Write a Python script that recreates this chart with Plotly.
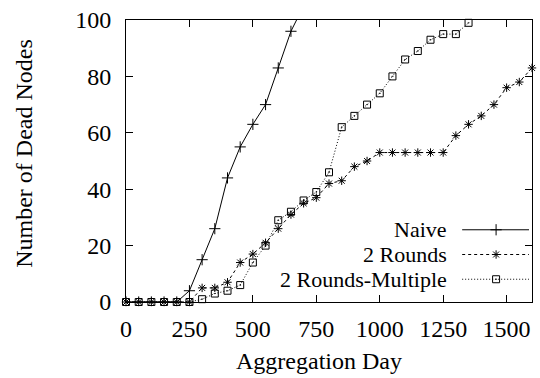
import plotly.graph_objects as go

days = list(range(0, 1650, 50))
naive = [0, 0, 0, 0, 0, 4, 15, 26, 44, 55, 63, 70, 83, 96, 105]
two_rounds = [0, 0, 0, 0, 0, 0, 5, 5, 7, 14, 17, 21, 26, 31, 35, 37, 42, 43, 48, 50,
              53, 53, 53, 53, 53, 53, 59, 63, 66, 70, 76, 78, 83]
two_rounds_multi = [0, 0, 0, 0, 0, 0, 1, 3, 4, 6, 14, 20, 29, 32, 36, 39, 46, 62, 66, 70,
                    74, 80, 86, 89, 93, 95, 95, 99]
names = ["Naive", "2 Rounds", "2 Rounds-Multiple"]
x_ticks = [0, 250, 500, 750, 1000, 1250, 1500]
y_ticks = [0, 20, 40, 60, 80, 100]

FONT = "Liberation Serif"
FS = 24
LEG_FS = 22
L, R, T, B = 126, 7, 17, 76
W, H = 540, 378
pw, ph = W - L - R, H - T - B

styles = [
    dict(dash="solid", symbol="cross-thin-open", size=8),
    dict(dash="3px,3px", symbol="asterisk-open", size=7),
    dict(dash="1px,2px", symbol="square-open-dot", size=7),
]
series = [naive, two_rounds, two_rounds_multi]

fig = go.Figure()
for name, ys, st in zip(names, series, styles):
    fig.add_trace(go.Scatter(
        x=days[:len(ys)], y=ys, mode="lines+markers", name=name,
        line=dict(color="black", width=1, dash=st["dash"]),
        marker=dict(symbol=st["symbol"], size=st["size"], color="black",
                    line=dict(color="black", width=1)),
        cliponaxis=(name == "Naive"), showlegend=False,
    ))

# custom legend (text to the left of sample, as in gnuplot)
def px2paper(xp, yp):
    return (xp - L) / pw, (H - B - yp) / ph

rows_y = [229, 254, 279]
for name, st, yp in zip(names, styles, rows_y):
    tx, ty = px2paper(449, yp)
    fig.add_annotation(x=tx, y=ty, xref="paper", yref="paper", text=name,
                       showarrow=False, xanchor="right", yanchor="middle", borderpad=0,
                       font=dict(family=FONT, size=LEG_FS, color="black"))
    x0, y0 = px2paper(463, yp)
    x1, _ = px2paper(530, yp)
    xm, _ = px2paper(497, yp)
    fig.add_trace(go.Scatter(
        x=[x0, x1], y=[y0, y0], xaxis="x2", yaxis="y2", mode="lines",
        line=dict(color="black", width=1, dash=st["dash"]), showlegend=False,
        hoverinfo="skip"))
    fig.add_trace(go.Scatter(
        x=[xm], y=[y0], xaxis="x2", yaxis="y2", mode="markers",
        marker=dict(symbol=st["symbol"], size=st["size"], color="black",
                    line=dict(color="black", width=1)),
        showlegend=False, hoverinfo="skip", cliponaxis=False))

axis_common = dict(showline=True, linecolor="black", linewidth=1, mirror="ticks",
                   ticks="inside", ticklen=7, tickcolor="black", tickwidth=1,
                   showgrid=False, zeroline=False,
                   tickfont=dict(family=FONT, size=FS, color="black"))

fig.update_layout(
    width=W, height=H,
    margin=dict(l=L, r=R, t=T, b=B),
    paper_bgcolor="white", plot_bgcolor="white",
    font=dict(family=FONT, size=FS, color="black"),
    xaxis=dict(range=[0, 1600], tickvals=x_ticks, ticklabelstandoff=5, **axis_common),
    yaxis=dict(range=[0, 100], tickvals=y_ticks, ticklabelstandoff=9, **axis_common),
    xaxis2=dict(range=[0, 1], overlaying="x", visible=False),
    yaxis2=dict(range=[0, 1], overlaying="y", visible=False),
    showlegend=False,
)

# axis titles
fig.add_annotation(x=0.475, y=(H - B - 362) / ph, xref="paper", yref="paper",
                   text="Aggregation Day", showarrow=False, xanchor="center", yanchor="middle",
                   font=dict(family=FONT, size=FS, color="black"))
fig.add_annotation(x=(23 - L) / pw, y=(H - B - 152) / ph, xref="paper", yref="paper",
                   text="Number of Dead Nodes", showarrow=False, textangle=-90,
                   xanchor="center", yanchor="middle",
                   font=dict(family=FONT, size=FS, color="black"))

fig.write_html("out.html")
